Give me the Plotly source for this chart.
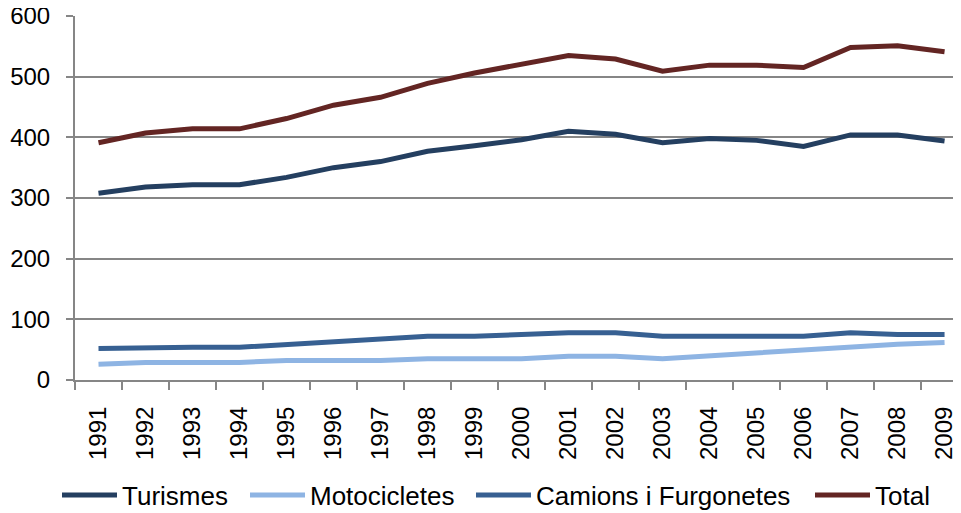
import plotly.graph_objects as go

years = [str(y) for y in range(1991, 2010)]
turismes = [308, 318, 322, 322, 334, 350, 360, 377, 386, 396, 410, 405, 391, 398, 395, 385, 404, 404, 394]
motocicletes = [26, 29, 29, 29, 32, 32, 32, 35, 35, 35, 39, 39, 35, 40, 44, 50, 55, 59, 62]
camions = [52, 54, 54, 54, 58, 62, 68, 72, 72, 75, 78, 78, 72, 72, 72, 72, 78, 75, 75]
total = [391, 407, 414, 414, 431, 453, 466, 489, 506, 521, 535, 529, 509, 519, 519, 515, 548, 551, 541]

names = ["Turismes", "Motocicletes", "Camions i Furgonetes", "Total"]
values = [turismes, motocicletes, camions, total]
colors = ["#243F60", "#8EB4E3", "#376092", "#632523"]

# The page body adds an 8px margin; the figure is sized to fill the rest.
W, H = 953, 505
legend_x = [49, 237, 463, 802]  # figure px where each legend entry starts

fig = go.Figure()
for i, (name, vals, col) in enumerate(zip(names, values, colors)):
    lg = "legend" if i == 0 else f"legend{i+1}"
    fig.add_trace(go.Scatter(x=years, y=vals, name=name, mode="lines",
                             line=dict(color=col, width=5), legend=lg))

font = dict(family="Liberation Sans, Arial, sans-serif", size=24, color="#000000")
layout = dict(
    width=W, height=H,
    margin=dict(l=67, r=0, t=8, b=133, autoexpand=False),
    plot_bgcolor="white", paper_bgcolor="white",
    font=font,
    showlegend=True,
    xaxis=dict(type="category", range=[-0.5, 18.35], tickangle=-90,
               showline=True, linecolor="#868686", linewidth=2,
               ticks="outside", ticklen=8, tickcolor="#868686", tickwidth=2,
               tickson="boundaries", showgrid=False, tickfont=font,
               automargin=False, ticklabelstandoff=15, ticklabeloverflow="allow"),
    yaxis=dict(range=[0, 600], tickvals=[0, 100, 200, 300, 400, 500, 600],
               showline=True, linecolor="#868686", linewidth=2,
               ticks="outside", ticklen=7, tickcolor="#868686", tickwidth=2,
               showgrid=True, gridcolor="#868686", gridwidth=2,
               zeroline=False, tickfont=font, automargin=False,
               ticklabelstandoff=11, ticklabeloverflow="allow"),
)
for i, lx in enumerate(legend_x):
    key = "legend" if i == 0 else f"legend{i+1}"
    layout[key] = dict(orientation="h", xref="container", x=lx / W, xanchor="left",
                       yref="container", y=1 - 487 / H, yanchor="middle",
                       font=dict(family="Liberation Sans, Arial, sans-serif", size=26, color="#000000"),
                       bgcolor="rgba(0,0,0,0)", itemwidth=55)
fig.update_layout(**layout)
fig.write_html("out.html")
